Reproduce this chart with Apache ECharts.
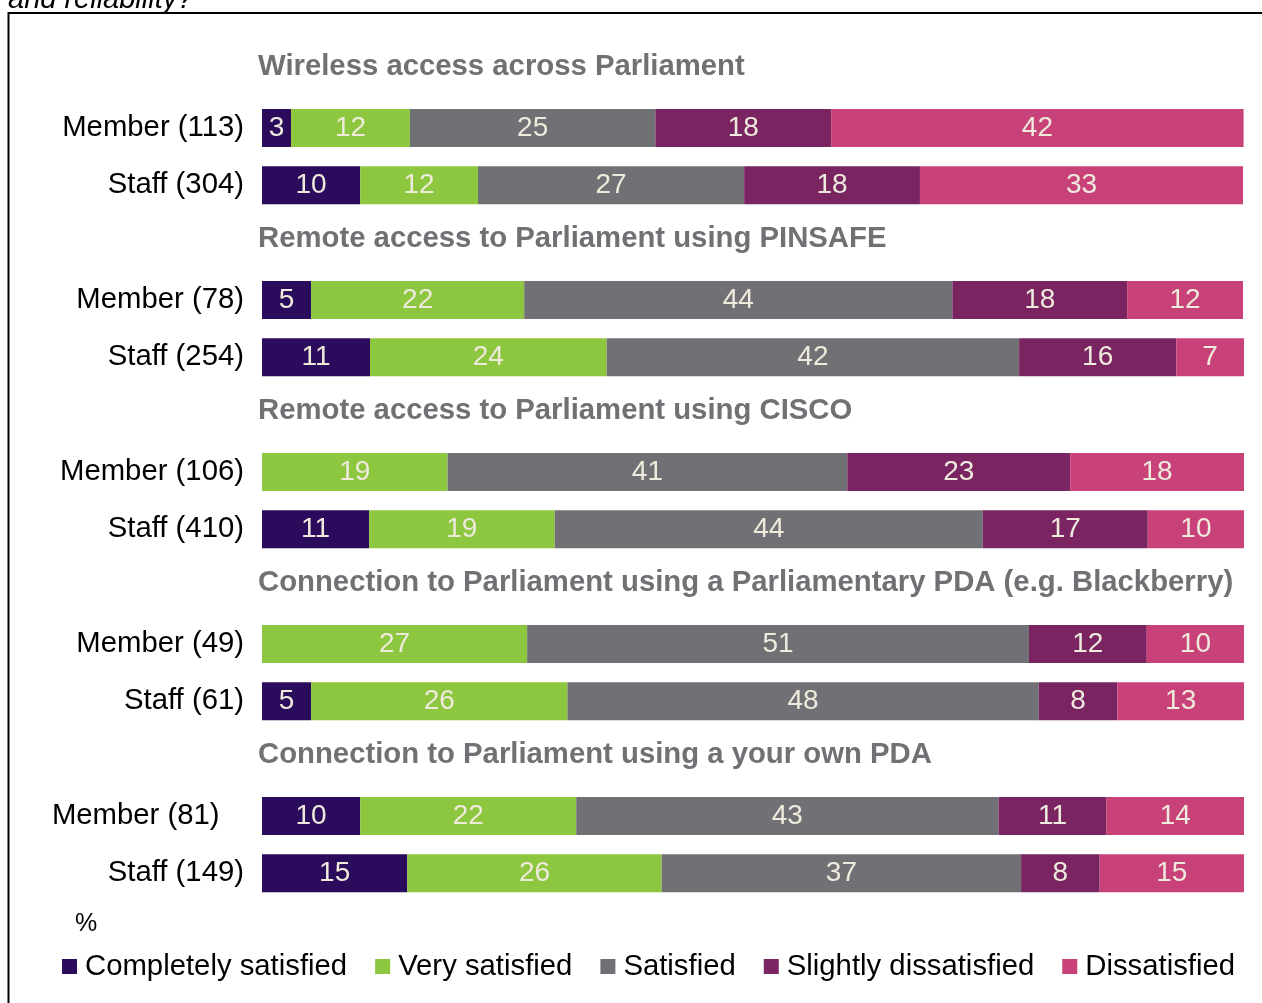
<!DOCTYPE html>
<html>
<head>
<meta charset="utf-8">
<script src="https://cdn.jsdelivr.net/npm/echarts@6/dist/echarts.min.js"></script>
<style>
html,body{margin:0;padding:0;background:#fff;}
#main{width:1262px;height:1003px;}
</style>
</head>
<body>
<div id="main"></div>
<script>
// ---- data ----
const groupTitles = [
  'Wireless access across Parliament',
  'Remote access to Parliament using PINSAFE',
  'Remote access to Parliament using CISCO',
  'Connection to Parliament using a Parliamentary PDA (e.g. Blackberry)',
  'Connection to Parliament using a your own PDA'
];
const rowLabels = [
  'Member (113)', 'Staff (304)',
  'Member (78)', 'Staff (254)',
  'Member (106)', 'Staff (410)',
  'Member (49)', 'Staff (61)',
  'Member (81)   ', 'Staff (149)'
];
const seriesNames = ['Completely satisfied', 'Very satisfied', 'Satisfied', 'Slightly dissatisfied', 'Dissatisfied'];
const completelySatisfied = [2.96, 10.0, 5.0, 11.0, null, 10.9, null, 5.0, 10.0, 14.8];
const verySatisfied       = [12.1, 12.0, 21.7, 24.1, 18.9, 18.9, 27.0, 26.1, 22.0, 25.9];
const satisfied           = [25.0, 27.1, 43.6, 42.0, 40.7, 43.6, 51.1, 48.0, 43.0, 36.6];
const slightlyDissatisfied= [17.9, 17.9, 17.8, 16.0, 22.7, 16.8, 12.0, 8.0, 11.0, 8.0];
const dissatisfied        = [42.0, 32.9, 11.8, 6.9, 17.7, 9.8, 9.9, 12.9, 14.0, 14.8];
const colors = ['#2B0B5B', '#8DC63F', '#717074', '#7A2462', '#C84178'];
const unitLabel = '%';
const topText = 'and reliability?';

// ---- build categories: title slot + two rows per group ----
const categories = [];
const titleSlots = [];
groupTitles.forEach((t, g) => {
  titleSlots.push(categories.length);
  categories.push(t);
  categories.push(rowLabels[2 * g]);
  categories.push(rowLabels[2 * g + 1]);
});
function expand(arr) {
  const out = [];
  groupTitles.forEach((t, g) => {
    out.push('-');
    out.push(arr[2 * g] == null ? '-' : arr[2 * g]);
    out.push(arr[2 * g + 1] == null ? '-' : arr[2 * g + 1]);
  });
  return out;
}
const allValues = [completelySatisfied, verySatisfied, satisfied, slightlyDissatisfied, dissatisfied];
const FONT = "'Liberation Sans', Arial, sans-serif";

const barSeries = allValues.map((vals, i) => ({
  name: seriesNames[i],
  type: 'bar',
  stack: 'total',
  barWidth: 38,
  itemStyle: { color: colors[i] },
  label: {
    show: true,
    position: 'inside',
    color: '#EEEADC',
    fontSize: 28,
    fontFamily: FONT,
    formatter: p => (typeof p.value === 'number' ? String(Math.round(p.value)) : '')
  },
  data: expand(vals)
}));

const titleSeries = {
  type: 'custom',
  silent: true,
  z: 10,
  encode: { x: 0, y: 1 },
  data: titleSlots.map(idx => [0, idx]),
  renderItem: function (params, api) {
    const p = api.coord([0, api.value(1)]);
    return {
      type: 'text',
      x: p[0] - 4,
      y: p[1] - 4,
      style: {
        text: groupTitles[params.dataIndex],
        fill: '#717074',
        font: 'bold 29.3px ' + FONT,
        textAlign: 'left',
        textVerticalAlign: 'middle'
      }
    };
  }
};

const chart = echarts.init(document.getElementById('main'));
chart.setOption({
  animation: false,
  backgroundColor: '#fff',
  grid: { left: 262, right: 18, top: 42, bottom: 101, containLabel: false },
  xAxis: { type: 'value', min: 0, max: 100, show: false },
  yAxis: {
    type: 'category',
    inverse: true,
    data: categories,
    axisLine: { show: false },
    axisTick: { show: false },
    splitLine: { show: false },
    axisLabel: {
      margin: 18,
      fontSize: 29.3,
      color: '#000',
      fontFamily: FONT,
      formatter: v => (groupTitles.indexOf(v) >= 0 ? '' : v)
    }
  },
  legend: {
    data: seriesNames,
    left: 57,
    top: 947,
    icon: 'rect',
    itemWidth: 15,
    itemHeight: 15,
    itemGap: 28,
    textStyle: { fontSize: 29.3, color: '#000', fontFamily: FONT, padding: [0, 0, 0, 3] },
    selectedMode: false
  },
  graphic: [
    {
      type: 'rect',
      shape: { x: 8.5, y: 13, width: 1300, height: 1100 },
      style: { fill: 'none', stroke: '#000', lineWidth: 2 },
      silent: true
    },
    {
      type: 'text',
      x: 8, y: 0,
      style: { text: topText, font: 'italic 29px ' + FONT, fill: '#000', textVerticalAlign: 'middle' }
    },
    {
      type: 'text',
      x: 75, y: 924,
      style: { text: unitLabel, font: '25px ' + FONT, fill: '#000', textVerticalAlign: 'middle' }
    }
  ],
  series: barSeries.concat([titleSeries])
});
</script>
</body>
</html>
